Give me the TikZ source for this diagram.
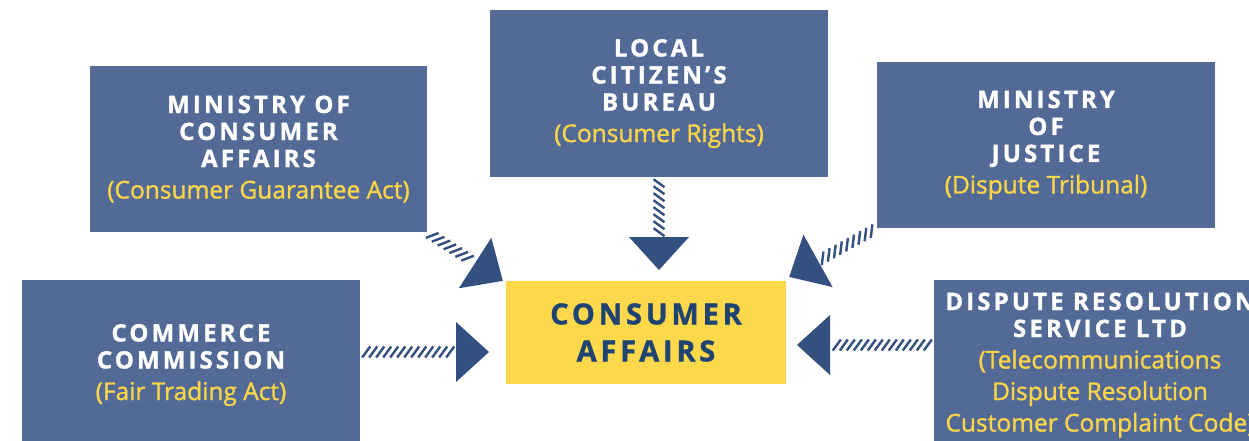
\documentclass[tikz,border=0pt]{standalone}
\usepackage{fontspec}
\setmainfont{Open Sans}
\newfontfamily\titlefont{Open Sans}[LetterSpace=13, BoldFeatures={FakeBold=1.2}]
\newfontfamily\subfont{Open Sans}[FakeBold=1.2]
\usetikzlibrary{decorations.markings,calc}
\definecolor{boxblue}{HTML}{546A96}
\definecolor{arrowblue}{HTML}{34507F}
\definecolor{cayellow}{HTML}{FDD84B}
\definecolor{subyellow}{HTML}{F9D54A}
\definecolor{catext}{HTML}{1F4471}
\newcommand{\ttl}{\fontsize{24}{27}\selectfont\titlefont\bfseries}
\newcommand{\sub}[1]{{\color{subyellow}\fontsize{24.5}{27}\selectfont\subfont #1}}
\tikzset{
  box/.style={fill=boxblue, draw=none, align=center, text=white,
    font=\fontsize{24}{27}\selectfont, inner sep=0pt},
  cabox/.style={fill=cayellow, draw=none, align=center, text=catext,
    font=\fontsize{29}{37}\selectfont\titlefont\bfseries, inner sep=0pt},
  hatcharrow/.style={decoration={markings,
    mark=between positions 6pt and -36pt step 7pt with {\draw[arrowblue, line width=2.4pt] (-4pt,-5.5pt) -- (4pt,5.5pt);},
    mark=at position 1 with {\fill[arrowblue] (0,0) -- (-33pt,30pt) -- (-33pt,-30pt) -- cycle;}},
    decorate}
}
\begin{document}
\begin{tikzpicture}[x=1pt,y=-1pt]
\useasboundingbox (0,0) rectangle (1249,441);
\clip (0,0) rectangle (1249,441);
\node[box, minimum width=337pt, minimum height=166pt] (mca) at (258.5,149)
  {\ttl MINISTRY OF\\\ttl CONSUMER\\\ttl AFFAIRS\\[4.5pt]\sub{(Consumer Guarantee Act)}};
\node[box, minimum width=338pt, minimum height=167pt] (lcb) at (659,93.5)
  {\ttl LOCAL\\\ttl CITIZEN’S\\\ttl BUREAU\\[4.5pt]\sub{(Consumer Rights)}};
\node[box, minimum width=338pt, minimum height=166pt] (moj) at (1046,145)
  {\ttl MINISTRY\\\ttl OF\\\ttl JUSTICE\\[4.5pt]\sub{(Dispute Tribunal)}};
\node[box, minimum width=338pt, minimum height=170pt] (cc) at (191,365)
  {\ttl COMMERCE\\\ttl COMMISSION\\[4.5pt]\sub{(Fair Trading Act)}};
\node[box, minimum width=332pt, minimum height=170pt] (drs) at (1100,365)
  {\ttl DISPUTE RESOLUTION\\\ttl SERVICE LTD\\[4.5pt]\sub{(Telecommunications}\\[4.5pt]\sub{Dispute Resolution}\\[4.5pt]\sub{Customer Complaint Code)}};
\node[cabox, minimum width=280pt, minimum height=103pt] (ca) at (646,332.5)
  {CONSUMER\\AFFAIRS};
\coordinate (t1) at (489,352);
\coordinate (t2) at (797,345);
\coordinate (t3) at (659,270);
\coordinate (t4) at (503,281);
\coordinate (t5) at (789,277);
\path[hatcharrow] (cc.east |- t1) -- (t1);
\path[hatcharrow] (drs.west |- t2) -- (t2);
\path[hatcharrow] (lcb.south) -- (t3);
\path[hatcharrow] (mca.south east) -- (t4);
\path[hatcharrow] (moj.south west) -- (t5);
\end{tikzpicture}
\end{document}
